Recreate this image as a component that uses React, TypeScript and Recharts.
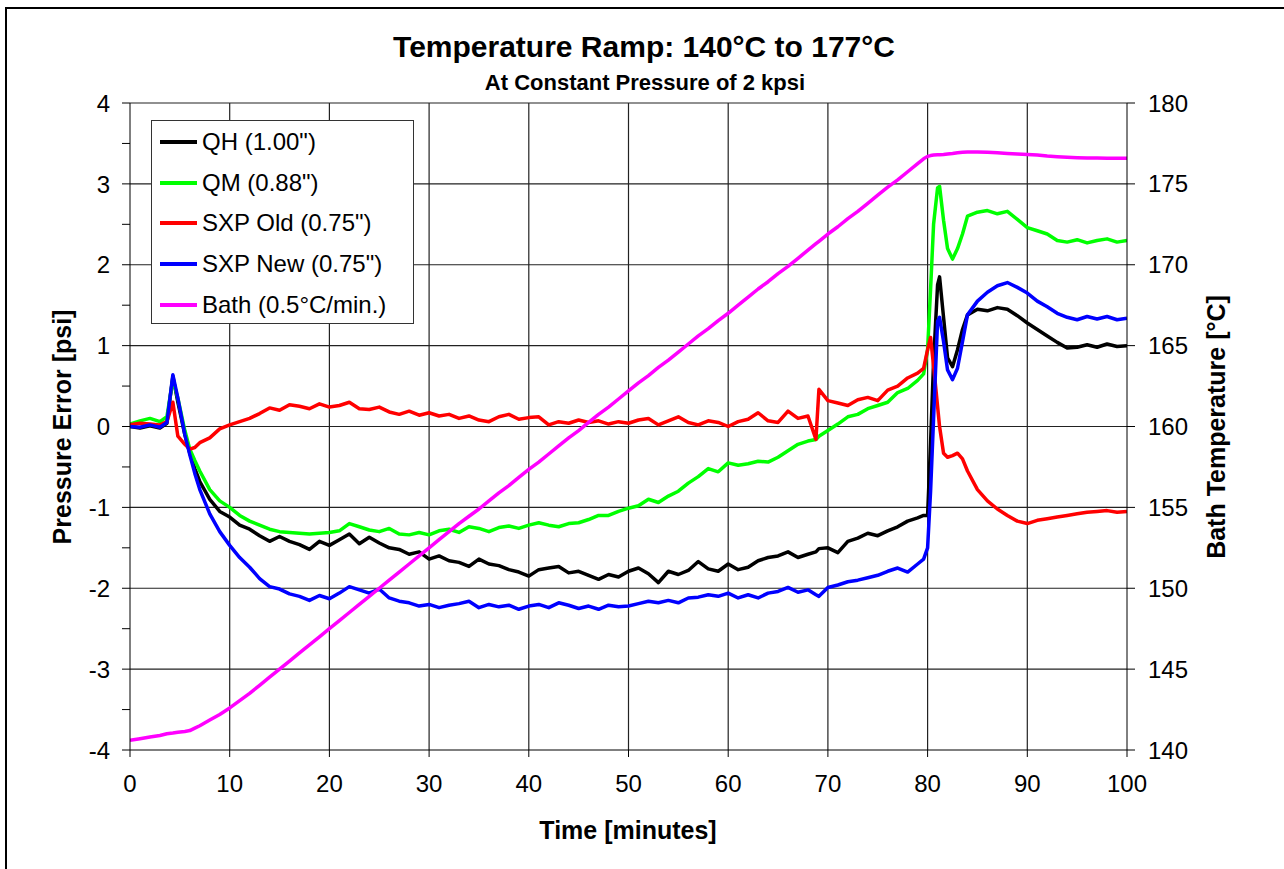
import { LineChart, Line, XAxis, YAxis, ReferenceLine } from 'recharts';

const FONT = 'Arial, "Liberation Sans", Helvetica, sans-serif';

// time in minutes (extra points around the fast transients)
const time = [
  0, 1, 2, 3, 3.7, 4.3, 4.8, 5.5, 6, 6.5, 7,
  8, 9, 10, 11, 12, 13, 14, 15, 16, 17, 18, 19, 20,
  21, 22, 23, 24, 25, 26, 27, 28, 29, 30,
  31, 32, 33, 34, 35, 36, 37, 38, 39, 40,
  41, 42, 43, 44, 45, 46, 47, 48, 49, 50,
  51, 52, 53, 54, 55, 56, 57, 58, 59, 60,
  61, 62, 63, 64, 65, 66, 67, 68,
  68.8, 69.1,
  70, 71, 72, 73, 74, 75, 76, 77, 78, 79,
  79.6, 80, 80.3, 80.6, 81, 81.2, 81.6, 82, 82.5, 83, 83.5, 84,
  85, 86, 87, 88, 89, 90, 91, 92, 93, 94, 95, 96, 97, 98, 99, 100,
];

const qh = [
  0.0, -0.02, 0.01, -0.02, 0.04, 0.62, 0.3, -0.1, -0.33, -0.52, -0.68,
  -0.9, -1.05, -1.12, -1.22, -1.27, -1.35, -1.42, -1.36, -1.42, -1.46, -1.52, -1.42, -1.47,
  -1.4, -1.33, -1.45, -1.37, -1.44, -1.5, -1.52, -1.58, -1.55, -1.64,
  -1.6, -1.66, -1.68, -1.73, -1.64, -1.7, -1.72, -1.77, -1.8, -1.85,
  -1.77, -1.75, -1.73, -1.81, -1.79, -1.84, -1.89, -1.83, -1.86, -1.79,
  -1.75, -1.82, -1.93, -1.79, -1.83, -1.78, -1.67, -1.76, -1.79, -1.7,
  -1.77, -1.74, -1.66, -1.62, -1.6, -1.55, -1.62, -1.58,
  -1.55, -1.51,
  -1.5, -1.56, -1.42, -1.38, -1.32, -1.35, -1.29, -1.24, -1.17, -1.13,
  -1.1, -1.1, -0.2, 0.8, 1.75, 1.85, 1.35, 0.85, 0.74, 0.95, 1.2, 1.38,
  1.45, 1.43, 1.47, 1.45, 1.37, 1.28, 1.2, 1.12, 1.04, 0.97, 0.98, 1.01, 0.98, 1.02, 0.99, 1.0,
];

const qm = [
  0.03, 0.07, 0.1, 0.06, 0.12, 0.58, 0.35, -0.05, -0.28, -0.42, -0.55,
  -0.78, -0.92, -1.0, -1.1, -1.17, -1.22, -1.27, -1.3, -1.31, -1.32, -1.33, -1.32, -1.31,
  -1.29, -1.2, -1.24, -1.28, -1.3, -1.26, -1.33, -1.34, -1.31, -1.34,
  -1.29, -1.27, -1.31, -1.24, -1.26, -1.3, -1.25, -1.23, -1.26, -1.22,
  -1.19, -1.22, -1.24, -1.2, -1.19, -1.15, -1.1, -1.1, -1.05, -1.01,
  -0.98, -0.9, -0.94, -0.86, -0.8, -0.7, -0.62, -0.52, -0.56, -0.45,
  -0.48, -0.46, -0.43, -0.44, -0.38, -0.3, -0.22, -0.18,
  -0.16, -0.12,
  -0.05, 0.03, 0.12, 0.15, 0.22, 0.26, 0.3, 0.42, 0.47, 0.57,
  0.65, 0.95, 1.7, 2.5, 2.95, 2.97, 2.55, 2.2, 2.07, 2.2, 2.38, 2.6,
  2.65, 2.67, 2.63, 2.66, 2.56, 2.46, 2.42, 2.38, 2.3, 2.28, 2.31, 2.27, 2.3, 2.32, 2.28, 2.3,
];

const sxpOld = [
  0.02, 0.04, 0.03, 0.02, 0.06, 0.3, -0.12, -0.22, -0.28, -0.26, -0.2,
  -0.14, -0.03, 0.02, 0.06, 0.1, 0.16, 0.23, 0.2, 0.27, 0.25, 0.22, 0.28, 0.24,
  0.26, 0.3, 0.22, 0.21, 0.24, 0.18, 0.15, 0.19, 0.14, 0.17,
  0.13, 0.15, 0.1, 0.13, 0.08, 0.06, 0.12, 0.15, 0.09, 0.11,
  0.12, 0.02, 0.06, 0.04, 0.08, 0.05, 0.07, 0.03, 0.06, 0.04,
  0.08, 0.1, 0.02, 0.07, 0.12, 0.05, 0.02, 0.07, 0.05, 0.0,
  0.06, 0.09, 0.17, 0.07, 0.05, 0.19, 0.1, 0.13,
  -0.16, 0.46,
  0.32, 0.29, 0.26, 0.33, 0.36, 0.32, 0.45, 0.5, 0.6, 0.66,
  0.72, 0.95, 1.1, 0.75, 0.25, 0.0, -0.33, -0.38, -0.36, -0.33, -0.4, -0.55,
  -0.78, -0.92, -1.02, -1.1, -1.17, -1.2, -1.16, -1.14, -1.12, -1.1, -1.08, -1.06, -1.05, -1.04, -1.06, -1.05,
];

const sxpNew = [
  0.0, -0.01, 0.02, -0.01, 0.05, 0.64, 0.35, -0.1, -0.35, -0.58, -0.78,
  -1.08, -1.3, -1.47, -1.62, -1.74, -1.88, -1.98, -2.01, -2.07, -2.1, -2.15, -2.09, -2.13,
  -2.06, -1.98, -2.02, -2.06, -2.01, -2.12, -2.16, -2.18, -2.22, -2.2,
  -2.24, -2.21, -2.19, -2.16, -2.24, -2.2, -2.23, -2.21, -2.26, -2.22,
  -2.2, -2.24, -2.18, -2.21, -2.25, -2.22, -2.26, -2.21, -2.23, -2.22,
  -2.19, -2.16, -2.18, -2.15, -2.18, -2.12, -2.11, -2.08, -2.1, -2.06,
  -2.12, -2.08, -2.12, -2.06, -2.04, -1.99, -2.05, -2.02,
  -2.08, -2.1,
  -1.99, -1.96, -1.92, -1.9, -1.87, -1.84, -1.79, -1.75, -1.8, -1.7,
  -1.64, -1.5, -0.8, 0.1, 1.3, 1.35, 1.05, 0.7, 0.58, 0.72, 1.05, 1.38,
  1.55, 1.66, 1.74, 1.78, 1.72, 1.65, 1.55, 1.48, 1.4, 1.35, 1.32, 1.36, 1.33, 1.36, 1.32, 1.34,
];

const bath = [
  140.6, 140.7, 140.8, 140.9, 141.0, 141.05, 141.1, 141.15, 141.2, 141.35, 141.5,
  141.85, 142.2, 142.6, 143.05, 143.5, 144.0, 144.5, 145.0, 145.5, 146.0, 146.5, 147.0, 147.5,
  148.0, 148.5, 149.0, 149.5, 150.0, 150.5, 151.0, 151.5, 152.0, 152.5,
  153.0, 153.5, 154.0, 154.45, 154.9, 155.4, 155.9, 156.35, 156.85, 157.35,
  157.8, 158.3, 158.8, 159.3, 159.75, 160.25, 160.75, 161.2, 161.7, 162.2,
  162.7, 163.15, 163.65, 164.1, 164.6, 165.1, 165.6, 166.05, 166.55, 167.0,
  167.5, 168.0, 168.5, 168.95, 169.45, 169.9, 170.4, 170.9,
  171.3, 171.45,
  171.9, 172.35, 172.85, 173.3, 173.8, 174.3, 174.8, 175.25, 175.75, 176.25,
  176.55, 176.7, 176.75, 176.78, 176.8, 176.8, 176.82, 176.85, 176.88, 176.92, 176.95, 176.97,
  176.97, 176.95, 176.92, 176.88, 176.85, 176.82, 176.78, 176.72, 176.68, 176.65, 176.62, 176.6, 176.6, 176.58, 176.58, 176.58,
];

const timeTicks = [0, 10, 20, 30, 40, 50, 60, 70, 80, 90, 100];
const pressureTicks = [-4, -3.5, -3, -2.5, -2, -1.5, -1, -0.5, 0, 0.5, 1, 1.5, 2, 2.5, 3, 3.5, 4];
const pressureGrid = [-3, -2, -1, 0, 1, 2, 3, 4];
const timeGrid = [10, 20, 30, 40, 50, 60, 70, 80, 90];
const tempTicks = [140, 145, 150, 155, 160, 165, 170, 175, 180];

const series = [
  { key: 'qh', name: 'QH (1.00")', color: '#000000', axis: 'p' },
  { key: 'qm', name: 'QM (0.88")', color: '#00ff00', axis: 'p' },
  { key: 'old', name: 'SXP Old (0.75")', color: '#ff0000', axis: 'p' },
  { key: 'nw', name: 'SXP New (0.75")', color: '#0000ff', axis: 'p' },
  { key: 'bath', name: 'Bath (0.5°C/min.)', color: '#ff00ff', axis: 'temp' },
];

const rows = time.map((t, i) => ({
  t,
  qh: qh[i],
  qm: qm[i],
  old: sxpOld[i],
  nw: sxpNew[i],
  bath: bath[i],
}));

// only whole psi values get a label, half steps are minor ticks
function PressureTick({ x, y, payload }: any) {
  if (!Number.isInteger(payload.value)) return <g />;
  return (
    <text x={x} y={y} dy="0.36em" textAnchor="end" fontSize={24} fontFamily={FONT} fill="#000">
      {payload.value}
    </text>
  );
}

const titleStyle = (left: number, top: number, size: number): React.CSSProperties => ({
  position: 'absolute',
  left,
  top,
  transform: 'translateX(-50%)',
  whiteSpace: 'nowrap',
  fontSize: size,
  fontWeight: 'bold',
  lineHeight: 1,
});

export default function App() {
  return (
    <div
      style={{
        position: 'absolute',
        left: 0,
        top: 0,
        width: 1284,
        height: 869,
        overflow: 'hidden',
        background: '#fff',
        fontFamily: FONT,
      }}
    >
      {/* outer frame, runs off the right and bottom edges */}
      <div
        style={{
          position: 'absolute',
          left: 5,
          top: 7,
          width: 1300,
          height: 900,
          border: '2px solid #000',
          boxSizing: 'border-box',
        }}
      />

      <div style={{ position: 'absolute', left: 0, top: 0 }}>
        <LineChart width={1284} height={869} data={rows} margin={{ top: 103, right: 97, bottom: 79, left: 70 }}>
          {timeGrid.map((v) => (
            <ReferenceLine key={'gx' + v} x={v} yAxisId="p" stroke="#222" strokeWidth={1.2} />
          ))}
          {pressureGrid.map((v) => (
            <ReferenceLine key={'gy' + v} y={v} yAxisId="p" stroke="#222" strokeWidth={1.2} />
          ))}
          <XAxis
            dataKey="t"
            type="number"
            domain={[0, 100]}
            ticks={timeTicks}
            height={40}
            stroke="#000"
            tickSize={7}
            tickMargin={18}
            tick={{ fontSize: 24, fill: '#000', fontFamily: FONT }}
            allowDataOverflow
          />
          <YAxis
            yAxisId="p"
            orientation="left"
            type="number"
            domain={[-4, 4]}
            ticks={pressureTicks}
            interval={0}
            width={60}
            stroke="#000"
            tickSize={8}
            tickMargin={12}
            tick={<PressureTick />}
            allowDataOverflow
          />
          <YAxis
            yAxisId="temp"
            orientation="right"
            type="number"
            domain={[140, 180]}
            ticks={tempTicks}
            interval={0}
            width={60}
            stroke="#000"
            tickSize={8}
            tickMargin={13}
            tick={{ fontSize: 24, fill: '#000', fontFamily: FONT }}
            allowDataOverflow
          />
          {series.map((s) => (
            <Line
              key={s.key}
              yAxisId={s.axis}
              dataKey={s.key}
              name={s.name}
              type="linear"
              stroke={s.color}
              strokeWidth={3.5}
              strokeLinejoin="round"
              dot={false}
              activeDot={false}
              isAnimationActive={false}
            />
          ))}
        </LineChart>
      </div>

      {/* titles */}
      <div style={titleStyle(644, 32, 30)}>Temperature Ramp: 140°C to 177°C</div>
      <div style={titleStyle(645, 72, 22)}>At Constant Pressure of 2 kpsi</div>
      <div style={titleStyle(628, 818, 25)}>Time [minutes]</div>
      <div
        style={{
          position: 'absolute',
          left: 62,
          top: 427,
          transform: 'translate(-50%, -50%) rotate(-90deg)',
          whiteSpace: 'nowrap',
          fontSize: 25,
          fontWeight: 'bold',
          lineHeight: 1,
        }}
      >
        Pressure Error [psi]
      </div>
      <div
        style={{
          position: 'absolute',
          left: 1216,
          top: 427,
          transform: 'translate(-50%, -50%) rotate(-90deg)',
          whiteSpace: 'nowrap',
          fontSize: 25,
          fontWeight: 'bold',
          lineHeight: 1,
        }}
      >
        Bath Temperature [°C]
      </div>

      {/* legend */}
      <div
        style={{
          position: 'absolute',
          left: 151,
          top: 120,
          width: 263,
          height: 204,
          border: '1px solid #333',
          boxSizing: 'border-box',
          background: '#fff',
          paddingTop: 1,
        }}
      >
        {series.map((s) => (
          <div key={s.key} style={{ display: 'flex', alignItems: 'center', height: 40.6 }}>
            <span style={{ display: 'inline-block', width: 37, height: 4, background: s.color, marginLeft: 8, marginRight: 5 }} />
            <span style={{ fontSize: 24, lineHeight: 1, whiteSpace: 'nowrap' }}>{s.name}</span>
          </div>
        ))}
      </div>
    </div>
  );
}
